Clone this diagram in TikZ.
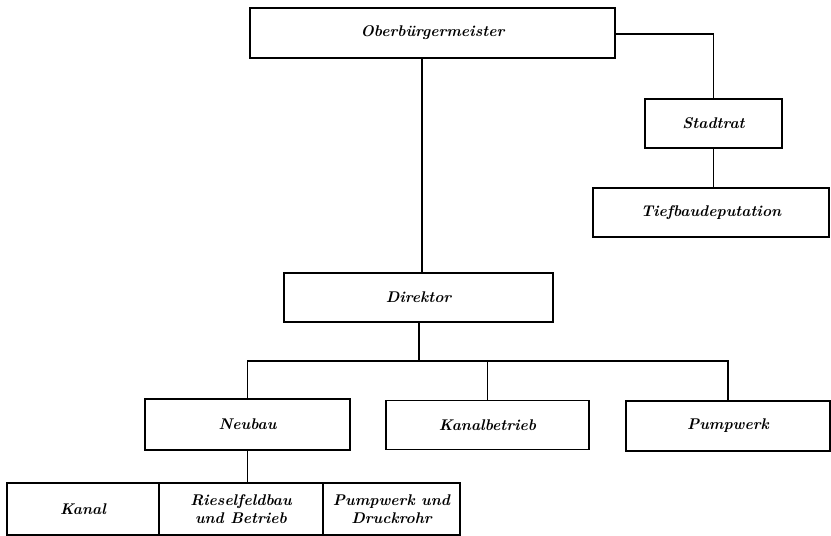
\documentclass[tikz,border=0pt]{standalone}
\usepackage{fontspec}
\begin{document}
\begin{tikzpicture}[x=1pt,y=-1pt,
  box/.style={draw, line width=1.2pt, inner sep=0pt, align=center,
    font=\fontsize{15.5}{17.5}\selectfont\bfseries\itshape},
  link/.style={line width=1.2pt}]
\useasboundingbox (0,0) rectangle (831,536);
% top level
\node[box, minimum width=365, minimum height=50] (ob) at (432.5,33) {Oberbürgermeister};
\node[box, minimum width=137, minimum height=49] (stadt) at (713.5,123.5) {Stadtrat};
\node[box, minimum width=236, minimum height=49] (tief) at (711,212.5) {Tiefbaudeputation};
% director
\node[box, minimum width=269, minimum height=49] (dir) at (418.5,297.5) {Direktor};
% departments
\node[box, minimum width=205, minimum height=51] (neu) at (247.5,424.5) {Neubau};
\node[box, minimum width=203, minimum height=49] (kanb) at (487.5,425) {Kanalbetrieb};
\node[box, minimum width=204, minimum height=50] (pump) at (728,426) {Pumpwerk};
% sections of Neubau
\node[box, minimum width=152, minimum height=52] (kanal) at (83,509) {Kanal};
\node[box, minimum width=164, minimum height=52] (riesel) at (241,509) {Rieselfeldbau\\und Betrieb};
\node[box, minimum width=137, minimum height=52] (druck) at (391.5,509) {Pumpwerk und\\Druckrohr};
% connectors
\coordinate (bus) at (419,361);
\draw[link] (ob.south -| 422,0) -- (dir.north -| 422,0);
\draw[link] (ob.east |- 0,34) -| (stadt.north);
\draw[link] (stadt.south) -- (tief.north -| stadt.south);
\draw[link] (dir.south -| bus) -- (bus);
\draw[link] (neu.north) |- (bus) -| (pump.north);
\draw[link] (bus -| kanb.north) -- (kanb.north);
\draw[link] (neu.south) -- (riesel.north -| neu.south);
\end{tikzpicture}
\end{document}
